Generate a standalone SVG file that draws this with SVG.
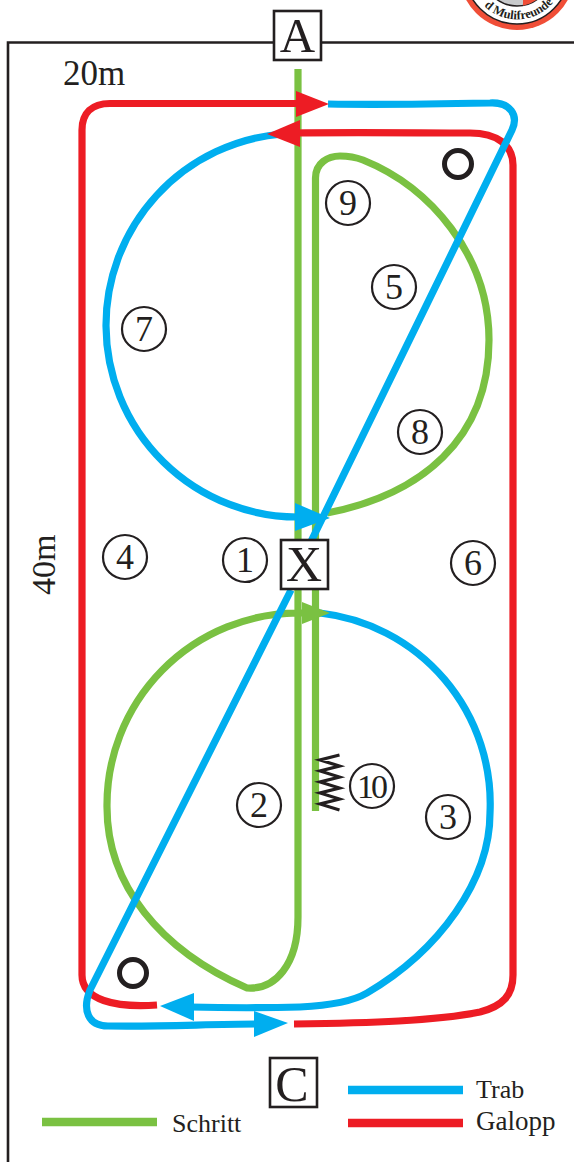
<svg xmlns="http://www.w3.org/2000/svg" width="574" height="1162" viewBox="0 0 574 1162">
<style>
.l{fill:none;stroke-width:7.2;stroke-linecap:butt;stroke-linejoin:round}
.k{stroke-width:8.5}
.g{stroke:#7ac142}.b{stroke:#00aeef}.r{stroke:#ed1c24}
.t{font-family:"Liberation Serif",serif;fill:#231f20}
.n{font-size:36px;text-anchor:middle}
.c{fill:#fff;stroke:#231f20;stroke-width:2.2}
.box{fill:#fff;stroke:#231f20;stroke-width:2.6}
.o{fill:none;stroke:#231f20;stroke-width:5}
</style>
<defs>
<path id="arc" d="M479 0A47 47 0 0 0 555 0"/>
<clipPath id="inner"><circle cx="517" cy="-28" r="34"/></clipPath>
</defs>
<g id="logo">
<circle cx="517" cy="-28" r="58" fill="#f04e37"/>
<circle cx="517" cy="-28" r="52" fill="#fff" stroke="#231f20" stroke-width="1.5"/>
<circle cx="517" cy="-28" r="34" fill="#c8cacc" stroke="#231f20" stroke-width="1.5"/>
<rect x="523" y="-30" width="40" height="40" fill="#f04e37" clip-path="url(#inner)"/>
<text class="t" font-size="12.5" font-weight="bold"><textPath href="#arc" startOffset="8">d Mulifreunde</textPath></text>
</g>
<g id="arena"><path d="M8 1162V42.500H574" fill="none" stroke="#231f20" stroke-width="2.600"/></g>
<g id="connectors">
<path class="l g" d="M298 69V917C298 965 275 990 247 988C160 950 107 885 107 807A192 192 0 0 1 298 613H320"/>
<path class="l g" d="M315.500 811V178C315.500 163 328 156 340 156C348 156 355 157 363 160C430 187 489 255 489 340C489 440 420 495 327 513"/>
<path class="l r" d="M298 103.500H110C92 103.500 82 113 82 130V975C82 1000 115 1008 157 1005"/>
<path class="l r" d="M294 1024C370 1023 435 1021 480 1012C503 1006 513 995 513 975V165C513 145 497 133 470 133C420 133 360 132 290 133"/>
<path class="l b" d="M328 104C380 105 440 104 490 103C510 102 519 115 512 130L300 564"/>
<path class="l b" d="M282 134A192 192 0 0 0 106 326A192 192 0 0 0 300 517"/>
<path class="l b" d="M291 590L90 990C82 1010 88 1026 108 1026C160 1027 210 1024 258 1024"/>
<path class="l b" d="M320 613A192 192 0 0 1 490 813C490 880 440 950 367 993C350 1003 320 1006 300 1007C265 1008 230 1008 190 1007"/>
<polygon points="329,104 296,91 296,117" fill="#ed1c24"/>
<polygon points="267,134 300,120 300,147" fill="#ed1c24"/>
<polygon points="330,518 295,503 295,531" fill="#00aeef"/>
<polygon points="330,613 302,602 302,624" fill="#7ac142"/>
<polygon points="160,1006 194,993 194,1021" fill="#00aeef"/>
<polygon points="288,1023 254,1011 254,1037" fill="#00aeef"/>
</g>
<g id="spring"><path d="M339.500 755L320 760L339.500 766L320 771L339.500 777L320 782L339.500 788L320 793L339.500 799L320 804L339.500 810" fill="none" stroke="#231f20" stroke-width="3.200"/></g>
<g id="cone1"><circle class="o" cx="458" cy="164" r="13.500"/></g>
<g id="cone2"><circle class="o" cx="133" cy="973" r="13.500"/></g>
<g id="A"><rect class="box" x="274" y="11" width="47" height="49"/><text class="t" x="297.500" y="52" font-size="49" text-anchor="middle">A</text></g>
<g id="X"><rect class="box" x="281" y="540" width="47" height="49"/><text class="t" x="304" y="581" font-size="50" text-anchor="middle">X</text></g>
<g id="C"><rect class="box" x="270" y="1058" width="47" height="49"/><text class="t" x="292" y="1101" font-size="50" text-anchor="middle">C</text></g>
<g id="n1"><circle class="c" cx="245" cy="560" r="22"/><text class="t n" x="245" y="572">1</text></g>
<g id="n2"><circle class="c" cx="259" cy="805" r="22"/><text class="t n" x="259" y="817">2</text></g>
<g id="n3"><circle class="c" cx="448" cy="817" r="22"/><text class="t n" x="448" y="829">3</text></g>
<g id="n4"><circle class="c" cx="125" cy="557" r="22"/><text class="t n" x="125" y="569">4</text></g>
<g id="n5"><circle class="c" cx="394" cy="287" r="22"/><text class="t n" x="394" y="299">5</text></g>
<g id="n6"><circle class="c" cx="473" cy="563" r="22"/><text class="t n" x="473" y="575">6</text></g>
<g id="n7"><circle class="c" cx="144" cy="329" r="22"/><text class="t n" x="144" y="341">7</text></g>
<g id="n8"><circle class="c" cx="420" cy="432" r="22"/><text class="t n" x="420" y="444">8</text></g>
<g id="n9"><circle class="c" cx="348" cy="203" r="22"/><text class="t n" x="348" y="215">9</text></g>
<g id="n10"><circle class="c" cx="372" cy="786" r="22"/><text class="t n" x="371" y="798" letter-spacing="-3" style="font-size:34px">10</text></g>
<g id="dim20"><text class="t" x="63" y="85" font-size="35">20m</text></g>
<g id="dim40"><text class="t" transform="translate(55 595) rotate(-90)" font-size="34">40m</text></g>
<g id="legend">
<path class="l k g" d="M42 1122H157"/><text class="t" x="172" y="1132" font-size="26">Schritt</text>
<path class="l k b" d="M348 1090H463"/><text class="t" x="476" y="1098" font-size="26">Trab</text>
<path class="l k r" d="M348 1123H463"/><text class="t" x="476" y="1130" font-size="27">Galopp</text>
</g>
</svg>
